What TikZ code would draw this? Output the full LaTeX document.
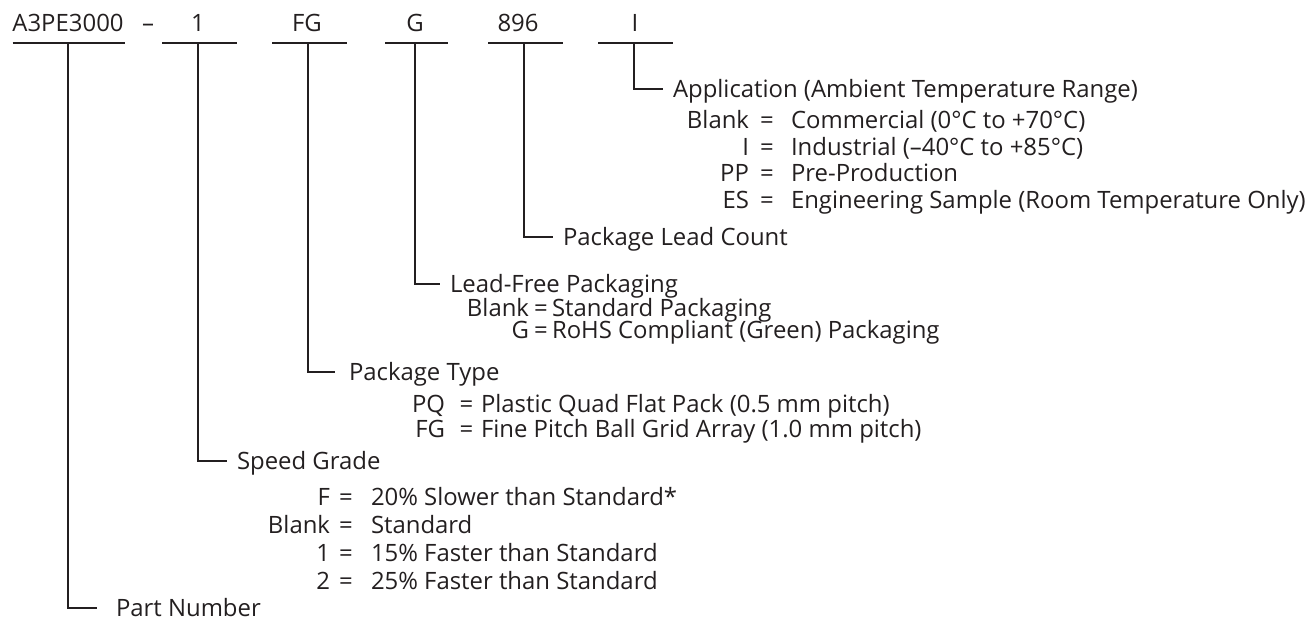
\documentclass[tikz,border=0pt]{standalone}
\usepackage{fontspec}
\setmainfont{Open Sans}
\usepackage{xcolor}
\definecolor{ink}{HTML}{231F20}

\begin{document}
\begin{tikzpicture}[color=ink, text=ink, line width=0.57pt,
  code/.style={inner sep=0pt, text height=1.68mm, text depth=0pt,
               font=\fontsize{6.8}{8}\selectfont},
  lbl/.style={code, anchor=west, inner xsep=0.9mm},
  key/.style={code, anchor=east},
  val/.style={code, anchor=west}]
\useasboundingbox (0,0) rectangle (13.14,6.18);

% part number fields
\node[code] (pn) at (0.68, 5.95) {A3PE3000};
\node[code] (dash) at (1.48, 5.95) {–};
\node[code] (sg) at (1.98, 5.95) {1};
\node[code] (pt) at (3.07, 5.95) {FG};
\node[code] (lf) at (4.15, 5.95) {G};
\node[code] (lc) at (5.18, 5.95) {896};
\node[code] (ap) at (6.35, 5.95) {I};
\draw (0.127,5.747) -- (1.25,5.747);
\draw (1.62,5.747) -- (2.37,5.747);
\draw (2.72,5.747) -- (3.47,5.747);
\draw (3.85,5.747) -- (4.48,5.747);
\draw (4.88,5.747) -- (5.63,5.747);
\draw (5.98,5.747) -- (6.73,5.747);
\coordinate (pnbar) at (0.68,5.747);
\coordinate (sgbar) at (1.98,5.747);
\coordinate (ptbar) at (3.08,5.747);
\coordinate (lfbar) at (4.15,5.747);
\coordinate (lcbar) at (5.24,5.747);
\coordinate (apbar) at (6.34,5.747);

% application
\node[lbl] (aptxt) at (6.63, 5.285) {Application (Ambient Temperature Range)};
\draw (apbar) |- (aptxt.west);
\node[key] (apk1) at (7.50, 4.98) {Blank};
\node[code] (ape1) at (7.67, 4.98) {=};
\node[val] (apv1) at (7.90, 4.98) {Commercial (0°C to +70°C)};
\node[key] (apk2) at (7.50, 4.71) {I};
\node[code] (ape2) at (7.67, 4.71) {=};
\node[val] (apv2) at (7.90, 4.71) {Industrial (–40°C to +85°C)};
\node[key] (apk3) at (7.50, 4.45) {PP};
\node[code] (ape3) at (7.67, 4.45) {=};
\node[val] (apv3) at (7.90, 4.45) {Pre-Production};
\node[key] (apk4) at (7.50, 4.18) {ES};
\node[code] (ape4) at (7.67, 4.18) {=};
\node[val] (apv4) at (7.90, 4.18) {Engineering Sample (Room Temperature Only)};

% lead count
\node[lbl] (lctxt) at (5.53, 3.81) {Package Lead Count};
\draw (lcbar) |- (lctxt.west);

% lead-free
\node[lbl] (lftxt) at (4.40, 3.34) {Lead-Free Packaging};
\draw (lfbar) |- (lftxt.west);
\node[key] (lfk1) at (5.30, 3.10) {Blank};
\node[code] (lfe1) at (5.41, 3.10) {=};
\node[val] (lfv1) at (5.51, 3.10) {Standard Packaging};
\node[key] (lfk2) at (5.30, 2.88) {G};
\node[code] (lfe2) at (5.41, 2.88) {=};
\node[val] (lfv2) at (5.51, 2.88) {RoHS Compliant (Green) Packaging};

% package type
\node[lbl, inner xsep=1.3mm] (pttxt) at (3.35, 2.46) {Package Type};
\draw (ptbar) |- (pttxt.west);
\node[key] (ptk1) at (4.46, 2.14) {PQ};
\node[code] (pte1) at (4.665, 2.14) {=};
\node[val] (ptv1) at (4.80, 2.14) {Plastic Quad Flat Pack (0.5 mm pitch)};
\node[key] (ptk2) at (4.46, 1.89) {FG};
\node[code] (pte2) at (4.665, 1.89) {=};
\node[val] (ptv2) at (4.80, 1.89) {Fine Pitch Ball Grid Array (1.0 mm pitch)};

% speed grade
\node[lbl] (sgtxt) at (2.27, 1.57) {Speed Grade};
\draw (sgbar) |- (sgtxt.west);
\node[key] (sgk1) at (3.31, 1.21) {F};
\node[code] (sge1) at (3.46, 1.21) {=};
\node[val] (sgv1) at (3.70, 1.21) {20\% Slower than Standard*};
\node[key] (sgk2) at (3.31, 0.93) {Blank};
\node[code] (sge2) at (3.46, 0.93) {=};
\node[val] (sgv2) at (3.70, 0.93) {Standard};
\node[key] (sgk3) at (3.31, 0.65) {1};
\node[code] (sge3) at (3.46, 0.65) {=};
\node[val] (sgv3) at (3.70, 0.65) {15\% Faster than Standard};
\node[key] (sgk4) at (3.31, 0.37) {2};
\node[code] (sge4) at (3.46, 0.37) {=};
\node[val] (sgv4) at (3.70, 0.37) {25\% Faster than Standard};

% part number
\node[lbl, inner xsep=1.8mm] (pntxt) at (0.97, 0.10) {Part Number};
\draw (pnbar) |- (pntxt.west);
\end{tikzpicture}
\end{document}
